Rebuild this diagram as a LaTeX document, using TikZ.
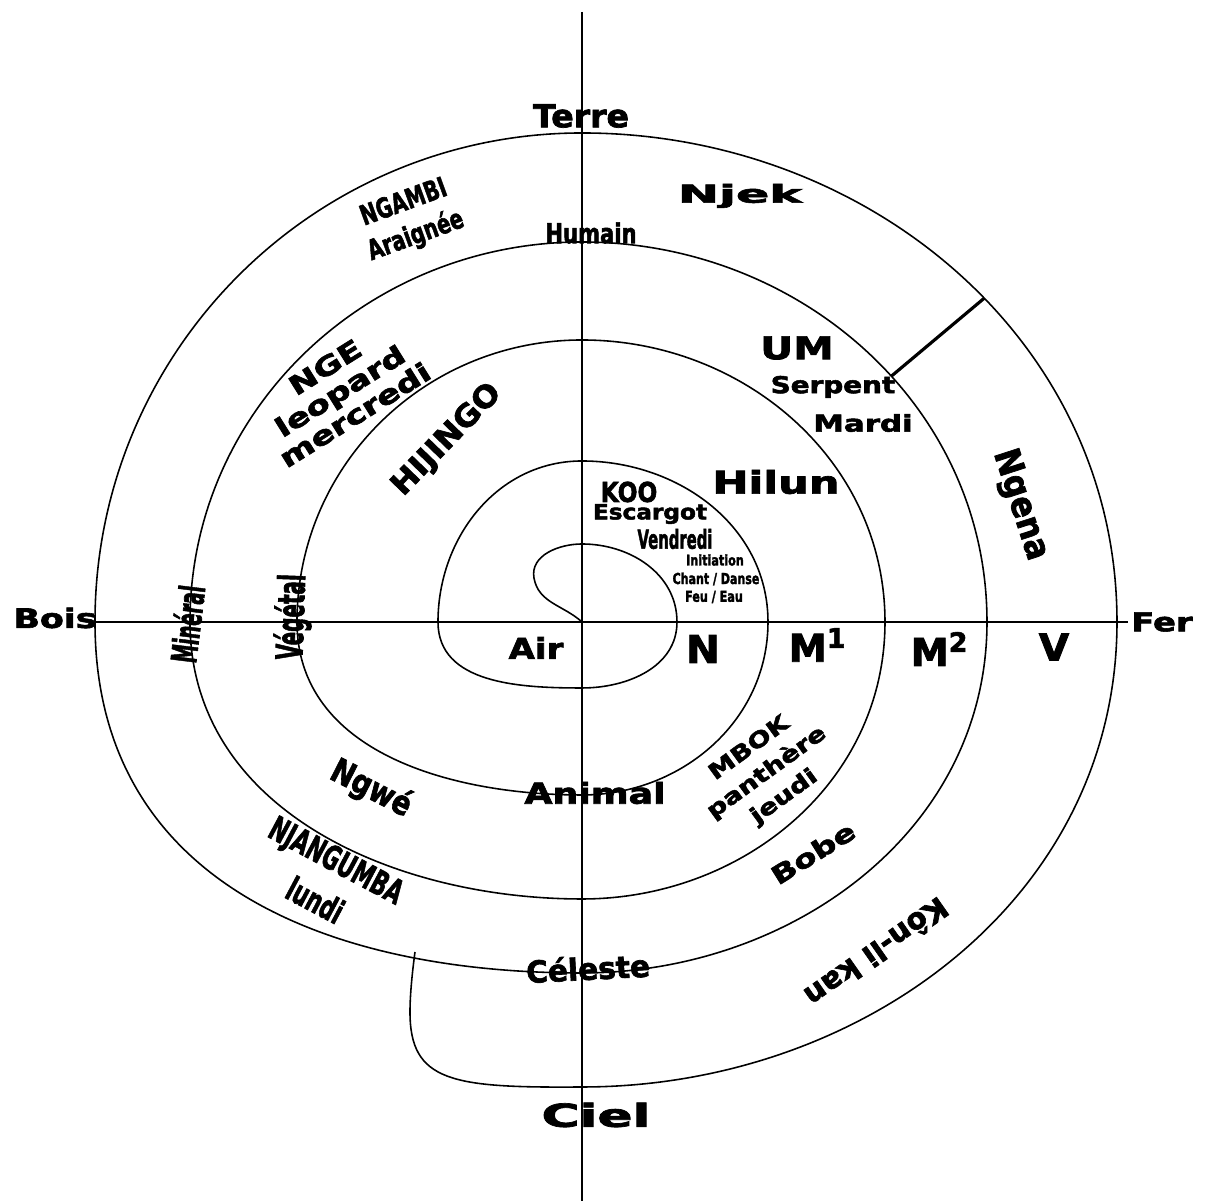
\documentclass[tikz,border=0pt]{standalone}
\usepackage{fontspec}
\setmainfont{DejaVu Sans}[BoldFeatures={FakeBold=2.2}]
\usepackage{graphicx}
\newcommand{\sx}[2]{\scalebox{#1}[1]{#2}}

\begin{document}
\begin{tikzpicture}[x=0.1mm, y=0.1mm,
  sp/.style={line width=0.45pt},
  bar/.style={line width=0.9pt},
  lbl/.style 2 args={inner sep=0pt, align=center, font=\bfseries\fontsize{#1}{#2}\selectfont}]
\useasboundingbox (-582,-579) rectangle (623,622);

% axes
\draw[sp] (0,610) -- (0,-579);
\draw[sp] (-487,0) -- (546,0);

% spiral, from the centre outwards
\draw[sp] (0,0) to[out=138,in=-80] (-48,44) to[out=100,in=180] (0,78)
  to[out=0,in=90] (95,0) to[out=-90,in=0] (0,-66) to[out=180,in=-90] (-144,0)
  to[out=90,in=180] (0,161) to[out=0,in=90] (186,0) to[out=-90,in=0] (0,-173)
  to[out=180,in=-90] (-285,0) to[out=90,in=180] (0,282) to[out=0,in=90] (303,0)
  to[out=-90,in=0] (0,-277) to[out=180,in=-90] (-392,0) to[out=90,in=180] (0,380)
  to[out=0,in=90] node[coordinate,pos=0.56] (bin) {} (405,0)
  to[out=-90,in=0] (0,-351) to[out=180,in=-90,looseness=1.1] (-487,0)
  to[out=90,in=180] (0,489)
  to[out=0,in=90] node[coordinate,pos=0.55] (bout) {} (535,0)
  to[out=-90,in=0] (0,-465)
  .. controls (-130,-466) and (-172,-460) .. (-172,-390)
  .. controls (-172,-370) and (-169,-345) .. (-167,-330);
\draw[bar] (bin) -- (bout);

% labels
\node[lbl={9}{10}] (terre) at (-1,506) {\sx{1.05}{Terre}};
\node[lbl={7.8}{9}] (humain) at (9,389) {\sx{0.77}{Humain}};
\node[lbl={7.8}{10}, rotate=20] (ngambi) at (-172,402) {\sx{0.72}{NGAMBI}\\\sx{0.72}{Araignée}};
\node[lbl={7}{8}] (njek) at (158,426) {\sx{2}{Njek}};
\node[lbl={8.9}{10}] (um) at (215,274) {\sx{1.3}{UM}};
\node[lbl={6.6}{8}] (serpent) at (251,235) {\sx{1.2}{Serpent}};
\node[lbl={6.6}{8}] (mardi) at (281,199) {\sx{1.33}{Mardi}};
\node[lbl={8.9}{10}] (hilun) at (194,140) {\sx{1.38}{Hilun}};
\node[lbl={10}{11}, rotate=-72] (ngena) at (438,117) {\sx{0.9}{Ngena}};
\node[lbl={7.8}{9}] (koo) at (47,130) {\sx{0.85}{KOO}};
\node[lbl={6}{7}] (escargot) at (68,108) {\sx{1.1}{Escargot}};
\node[lbl={7.4}{8}] (vendredi) at (93,83) {\sx{0.57}{Vendredi}};
\node[lbl={4.2}{5}] (initiation) at (133,62) {\sx{0.76}{Initiation}};
\node[lbl={4.3}{5}] (chant) at (134,43) {\sx{0.73}{Chant / Danse}};
\node[lbl={4.3}{5}] (feu) at (132,25) {\sx{0.74}{Feu / Eau}};
\node[lbl={8.2}{9}] (air) at (-46,-26) {\sx{1.18}{Air}};
\node[lbl={10.9}{12}] (n) at (121,-27) {\sx{1.06}{N}};
\node[lbl={10.9}{12}] (m1) at (236,-23) {M\textsuperscript{1}};
\node[lbl={10.9}{12}] (m2) at (358,-27) {M\textsuperscript{2}};
\node[lbl={10.5}{12}] (v) at (472,-25) {\sx{1.06}{V}};
\node[lbl={7.4}{8}] (fer) at (580,0) {\sx{1.3}{Fer}};
\node[lbl={7.6}{8}] (bois) at (-527,4) {\sx{1.3}{Bois}};
\node[lbl={10}{11}, rotate=83] (mineral) at (-395,-2) {\sx{0.52}{Minéral}};
\node[lbl={10.5}{11}, rotate=88] (vegetal) at (-289,5) {\sx{0.54}{Végétal}};
\node[lbl={8.6}{10}, rotate=46] (hijingo) at (-135,182) {\sx{1.06}{HIJINGO}};
\node[lbl={7.5}{8}, rotate=32] (nge) at (-242,231) {\sx{1.3}{NGE}\\\sx{1.3}{leopard}\\\sx{1.3}{mercredi}};
\node[lbl={9.5}{10}, rotate=-27] (ngwe) at (-211,-167) {\sx{0.82}{Ngwé}};
\node[lbl={9.5}{13}, rotate=-28] (njangumba) at (-256,-258) {\sx{0.63}{NJANGUMBA}\\\sx{0.63}{lundi}};
\node[lbl={8.2}{9}] (animal) at (13,-171) {\sx{1.26}{Animal}};
\node[lbl={6.2}{8.5}, rotate=36] (mbok) at (185,-151) {\sx{1.26}{MBOK}\\\sx{1.26}{panthère}\\\sx{1.26}{jeudi}};
\node[lbl={7.2}{8}, rotate=32] (bobe) at (231,-231) {\sx{1.3}{Bobe}};
\node[lbl={8.4}{9}, rotate=-145] (konlikan) at (295,-331) {\sx{1}{Kôn-li kan}};
\node[lbl={8.6}{10}, rotate=3] (celeste) at (6,-346) {\sx{0.98}{Céleste}};
\node[lbl={9}{10}] (ciel) at (14,-493) {\sx{1.64}{Ciel}};
\end{tikzpicture}
\end{document}
